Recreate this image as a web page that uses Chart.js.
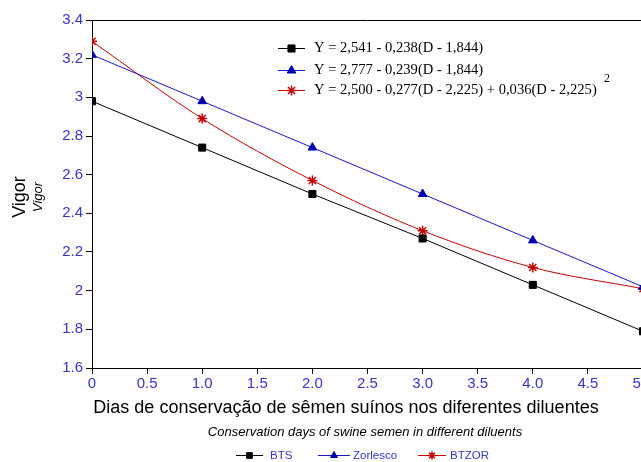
<!DOCTYPE html>
<html>
<head>
<meta charset="utf-8">
<script src="https://cdn.jsdelivr.net/npm/chart.js@4"></script>
<style>
  html, body { margin: 0; padding: 0; background: #fff; overflow: hidden; }
  #wrap { width: 641px; height: 462px; overflow: hidden; position: relative; }
  canvas { display: block; }
</style>
</head>
<body>
<div id="wrap"><canvas id="chart" width="700" height="462"></canvas></div>
<script>
// ─── Data ──────────────────────────────────────────────────────
const DAYS = [0, 1, 2, 3, 4, 5];
const BTS = [2.98, 2.74, 2.50, 2.27, 2.03, 1.79];
const ZORLESCO = [3.22, 2.98, 2.74, 2.50, 2.26, 2.02];
const BTZOR = [3.29, 2.89, 2.57, 2.31, 2.12, 2.01];
const SERIES_NAMES = ['BTS', 'Zorlesco', 'BTZOR'];
const EQUATIONS = [
  'Y = 2,541 - 0,238(D - 1,844)',
  'Y = 2,777 - 0,239(D - 1,844)',
  'Y = 2,500 - 0,277(D - 2,225) + 0,036(D - 2,225)',
];

const TICK_BLUE = '#3535C8';
const toXY = vals => DAYS.map((d, i) => ({ x: d, y: vals[i] }));

// ─── Legends + titles drawn on canvas ──────────────────────────
function drawSymbol(ctx, ds, x1, x2, y, r) {
  ctx.save();
  ctx.strokeStyle = ds.borderColor;
  ctx.lineWidth = 1;
  ctx.beginPath();
  ctx.moveTo(x1, y + 0.5);
  ctx.lineTo(x2, y + 0.5);
  ctx.stroke();
  ctx.fillStyle = ds.pointBackgroundColor;
  ctx.strokeStyle = ds.pointBorderColor;
  ctx.lineWidth = ds.pointBorderWidth;
  Chart.helpers.drawPoint(ctx, {
    pointStyle: ds.pointStyle, radius: r || ds.pointRadius, borderWidth: ds.pointBorderWidth,
  }, (x1 + x2) / 2, y + 0.5);
  ctx.restore();
}

const extras = {
  id: 'extras',
  afterDraw(chart) {
    const { ctx, chartArea } = chart;
    const sets = chart.data.datasets;

    // top frame line
    ctx.save();
    ctx.strokeStyle = '#000';
    ctx.lineWidth = 1;
    ctx.beginPath();
    ctx.moveTo(chartArea.left, chartArea.top + 0.5);
    ctx.lineTo(chartArea.right, chartArea.top + 0.5);
    ctx.stroke();

    // equation legend
    const rows = [48, 70, 90];
    ctx.textBaseline = 'middle';
    ctx.textAlign = 'left';
    rows.forEach((y, i) => {
      drawSymbol(ctx, sets[i], 278, 305, y);
      ctx.fillStyle = '#000';
      ctx.font = '14.6px "Liberation Serif", "Times New Roman", serif';
      ctx.fillText(EQUATIONS[i], 314, y);
    });
    ctx.font = '12px "Liberation Serif", serif';
    ctx.fillText('2', 604, 79);

    // bottom legend
    const items = [[236, 263, 270], [318, 350, 353], [418, 446, 450]];
    items.forEach(([a, b, t], i) => {
      drawSymbol(ctx, sets[i], a, b, 455, 4);
      ctx.fillStyle = TICK_BLUE;
      ctx.font = '11.5px "Liberation Sans", Arial, sans-serif';
      ctx.fillText(SERIES_NAMES[i], t, 456);
    });

    // x axis titles
    ctx.fillStyle = '#000';
    ctx.textAlign = 'center';
    ctx.font = '18px "Liberation Sans", Arial, sans-serif';
    ctx.fillText('Dias de conservação de sêmen suínos nos diferentes diluentes', 346, 408);
    ctx.font = 'italic 13px "Liberation Sans", Arial, sans-serif';
    ctx.fillText('Conservation days of swine semen in different diluents', 365, 432, 366);

    // y axis titles
    ctx.save();
    ctx.translate(20, 197);
    ctx.rotate(-Math.PI / 2);
    ctx.font = '18px "Liberation Sans", Arial, sans-serif';
    ctx.fillText('Vigor', 0, 0);
    ctx.restore();
    ctx.save();
    ctx.translate(38, 197);
    ctx.rotate(-Math.PI / 2);
    ctx.font = 'italic 13px "Liberation Sans", Arial, sans-serif';
    ctx.fillText('Vigor', 0, 0);
    ctx.restore();
    ctx.restore();
  },
};

// ─── Chart ─────────────────────────────────────────────────────
const tickFont = { family: '"Liberation Sans", Arial, sans-serif', size: 15 };

new Chart(document.getElementById('chart'), {
  type: 'line',
  data: {
    datasets: [
      {
        label: SERIES_NAMES[0], data: toXY(BTS),
        borderColor: '#000', borderWidth: 1,
        pointStyle: 'rect', pointRadius: 5, pointBorderWidth: 1,
        pointBackgroundColor: '#000', pointBorderColor: '#000',
      },
      {
        label: SERIES_NAMES[1], data: toXY(ZORLESCO),
        borderColor: '#1818D0', borderWidth: 1,
        pointStyle: 'triangle', pointRadius: 5, pointBorderWidth: 1,
        pointBackgroundColor: '#0000B0', pointBorderColor: '#0000B0',
      },
      {
        label: SERIES_NAMES[2], data: toXY(BTZOR),
        borderColor: '#C80000', borderWidth: 1,
        cubicInterpolationMode: 'monotone',
        pointStyle: 'star', pointRadius: 5, pointBorderWidth: 1.5,
        pointBackgroundColor: '#C00000', pointBorderColor: '#C00000',
      },
    ],
  },
  options: {
    responsive: false,
    animation: false,
    layout: { padding: { top: 20, right: 57, left: 0, bottom: 0 } },
    plugins: { legend: { display: false }, tooltip: { enabled: false } },
    scales: {
      x: {
        type: 'linear', min: 0, max: 5,
        afterFit: s => { s.height = 94; },
        ticks: { stepSize: 0.5, color: TICK_BLUE, font: tickFont, padding: 1, maxRotation: 0 },
        grid: { drawOnChartArea: false, drawTicks: true, tickLength: 6, color: '#000' },
        border: { color: '#000', width: 1 },
      },
      y: {
        min: 1.6, max: 3.4,
        afterFit: s => { s.width = 92; },
        ticks: {
          stepSize: 0.2, color: TICK_BLUE, font: tickFont, padding: 3,
          callback: v => String(Number(v.toFixed(1))),
        },
        grid: { drawOnChartArea: false, drawTicks: true, tickLength: 6, color: '#000' },
        border: { color: '#000', width: 1 },
      },
    },
  },
  plugins: [extras],
});
</script>
</body>
</html>
